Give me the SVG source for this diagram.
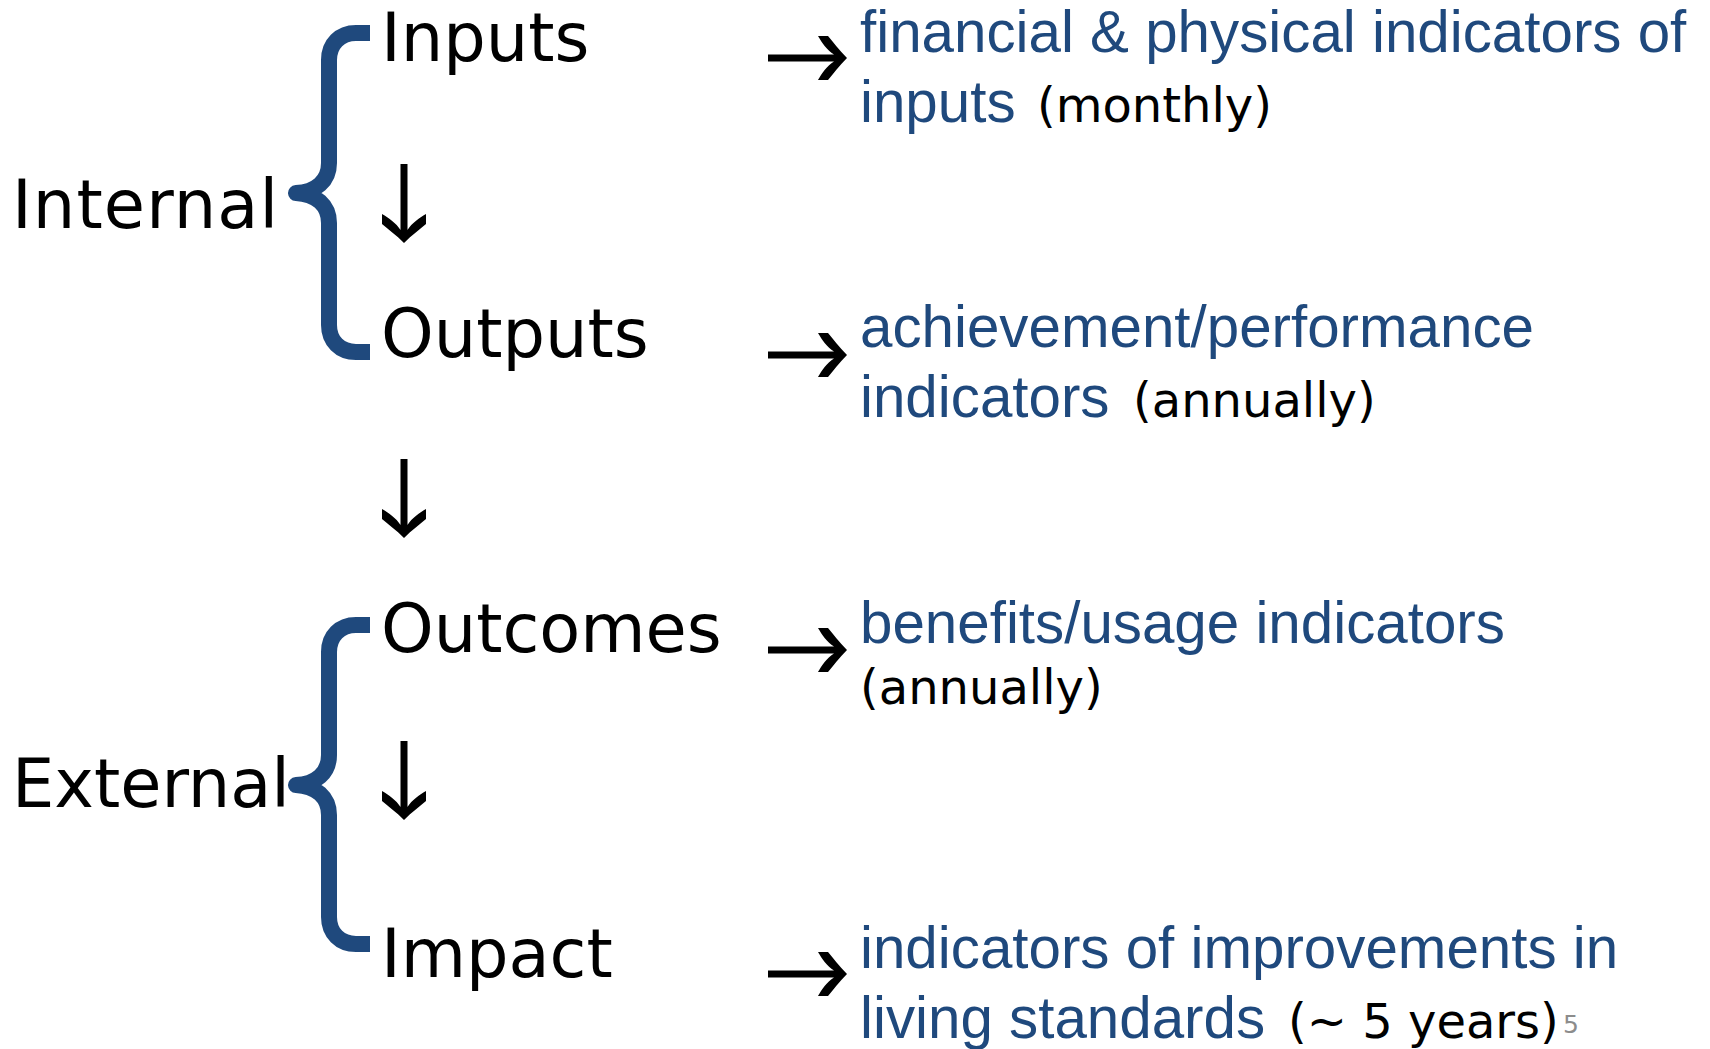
<svg xmlns="http://www.w3.org/2000/svg" width="1710" height="1049" viewBox="0 0 1710 1049">
<style>
.lbl{font-family:"DejaVu Sans","Verdana",sans-serif;font-size:67px;fill:#000}
.desc{font-family:"Liberation Sans","Arial",sans-serif;font-size:58.3px;fill:#1F497D}
.freq{font-family:"DejaVu Sans","Verdana",sans-serif;font-size:48px;fill:#000}
.brace{fill:none;stroke:#1F497D;stroke-width:16;stroke-linejoin:round;stroke-linecap:butt}
.pg{font-family:"DejaVu Sans",sans-serif;font-size:25px;fill:#8C8C8C}
</style>
<defs>
<path id="arr" d="M0,0 C-8,-8 -14,-16 -19,-22 L-29,-22 C-25,-15 -20,-8 -13,-3.5 L-79,-3.5 L-79,3.5 L-13,3.5 C-20,8 -25,15 -29,22 L-19,22 C-14,16 -8,8 0,0 Z" fill="#000"/>
</defs>
<rect width="1710" height="1049" fill="#fff"/>
<g id="brace-internal">
<path class="brace" d="M370,33 H356 C340,33 329,44 329,60 V163 C329,181 316,192 296,193 C316,194 329,205 329,223 V325 C329,341 340,352 356,352 H370"/>
<text class="lbl" x="12" y="228" textLength="266" lengthAdjust="spacing">Internal</text>
</g>
<g id="brace-external">
<path class="brace" transform="translate(0,592)" d="M370,33 H356 C340,33 329,44 329,60 V163 C329,181 316,192 296,193 C316,194 329,205 329,223 V325 C329,341 340,352 356,352 H370"/>
<text class="lbl" x="12" y="807">External</text>
</g>
<g id="node-inputs"><text class="lbl" x="381" y="61">Inputs</text></g>
<g id="node-outputs"><text class="lbl" x="381" y="357">Outputs</text></g>
<g id="node-outcomes"><text class="lbl" x="381" y="652">Outcomes</text></g>
<g id="node-impact"><text class="lbl" x="381" y="977">Impact</text></g>
<g id="desc-inputs">
<text class="desc" x="860" y="52">financial &amp; physical indicators of</text>
<text class="desc" x="860" y="122">inputs</text>
<text class="freq" x="1037" y="122">(monthly)</text>
</g>
<g id="desc-outputs">
<text class="desc" x="860" y="347">achievement/performance</text>
<text class="desc" x="860" y="417">indicators</text>
<text class="freq" x="1133" y="417">(annually)</text>
</g>
<g id="desc-outcomes">
<text class="desc" x="860" y="643">benefits/usage indicators</text>
<text class="freq" x="860" y="704">(annually)</text>
</g>
<g id="desc-impact">
<text class="desc" x="860" y="968">indicators of improvements in</text>
<text class="desc" x="860" y="1038">living standards</text>
<text class="pg" x="1563" y="1033">5</text>
<text class="freq" x="1288" y="1038">(~ 5 years)</text>
</g>
<g id="connectors">
<use href="#arr" transform="translate(404,243) rotate(90)"/>
<use href="#arr" transform="translate(404,538) rotate(90)"/>
<use href="#arr" transform="translate(404,820) rotate(90)"/>
<use href="#arr" transform="translate(847,58)"/>
<use href="#arr" transform="translate(847,355)"/>
<use href="#arr" transform="translate(847,650)"/>
<use href="#arr" transform="translate(847,974)"/>
</g>
</svg>
